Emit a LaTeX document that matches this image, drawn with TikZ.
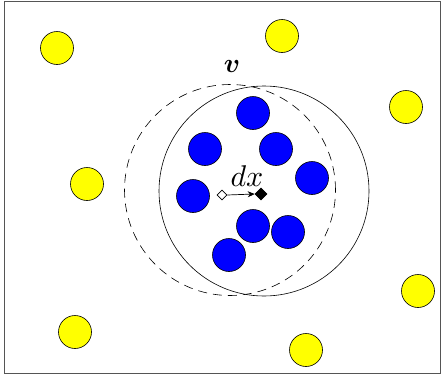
\documentclass[tikz,border=0pt]{standalone}
\usepackage{amsmath,bm}
\usepackage{xcolor}
\usetikzlibrary{arrows.meta,shapes.geometric}
\definecolor{Sun}{HTML}{FFFF00}
\definecolor{Deep}{HTML}{0000FF}
\definecolor{Frame}{HTML}{555555}

\begin{document}
\begin{tikzpicture}[
  x=1pt,y=-1pt,
  ball/.style={circle,draw=black,line width=0.6pt,minimum size=33pt,inner sep=0pt},
  outer/.style={ball,fill=Sun},
  inner/.style={ball,fill=Deep},
  mark0/.style={diamond,draw=black,line width=0.6pt,minimum size=11pt,inner sep=0pt},
  arr/.style={-{Stealth[length=7pt,width=6pt]},line width=0.7pt},
  lab/.style={inner sep=0pt}
]
\useasboundingbox (0,0) rectangle (441,375);
\draw[Frame,line width=1pt] (4,1) rectangle (440,373);
% particles outside the sphere
\node[outer] (y1) at (57,48) {};
\node[outer] (y2) at (282,36) {};
\node[outer] (y3) at (406,107) {};
\node[outer] (y4) at (87,184) {};
\node[outer] (y5) at (418,291) {};
\node[outer] (y6) at (75,332) {};
\node[outer] (y7) at (306,350) {};
% sphere before and after the shift
\draw[line width=0.6pt,dash pattern=on 9pt off 6pt] (230,190) circle[radius=105.5pt];
\draw[line width=0.6pt] (264,191) circle[radius=105pt];
% particles inside the sphere
\node[inner] (b1) at (253,113) {};
\node[inner] (b2) at (205,149) {};
\node[inner] (b3) at (276,149) {};
\node[inner] (b4) at (312,178) {};
\node[inner] (b5) at (193,196) {};
\node[inner] (b6) at (253,226) {};
\node[inner] (b7) at (288,232) {};
\node[inner] (b8) at (229,255) {};
% displacement
\node[mark0,fill=white,minimum size=10pt] (old) at (222,195) {};
\node[mark0,fill=black,minimum size=12pt] (new) at (261,194) {};
\draw[arr] (old.east) -- (new.west);
\node[lab,scale=3] (dx) at (247,176) {$dx$};
\node[lab,scale=2.7] (v) at (232,66) {$\bm{v}$};
\end{tikzpicture}
\end{document}
